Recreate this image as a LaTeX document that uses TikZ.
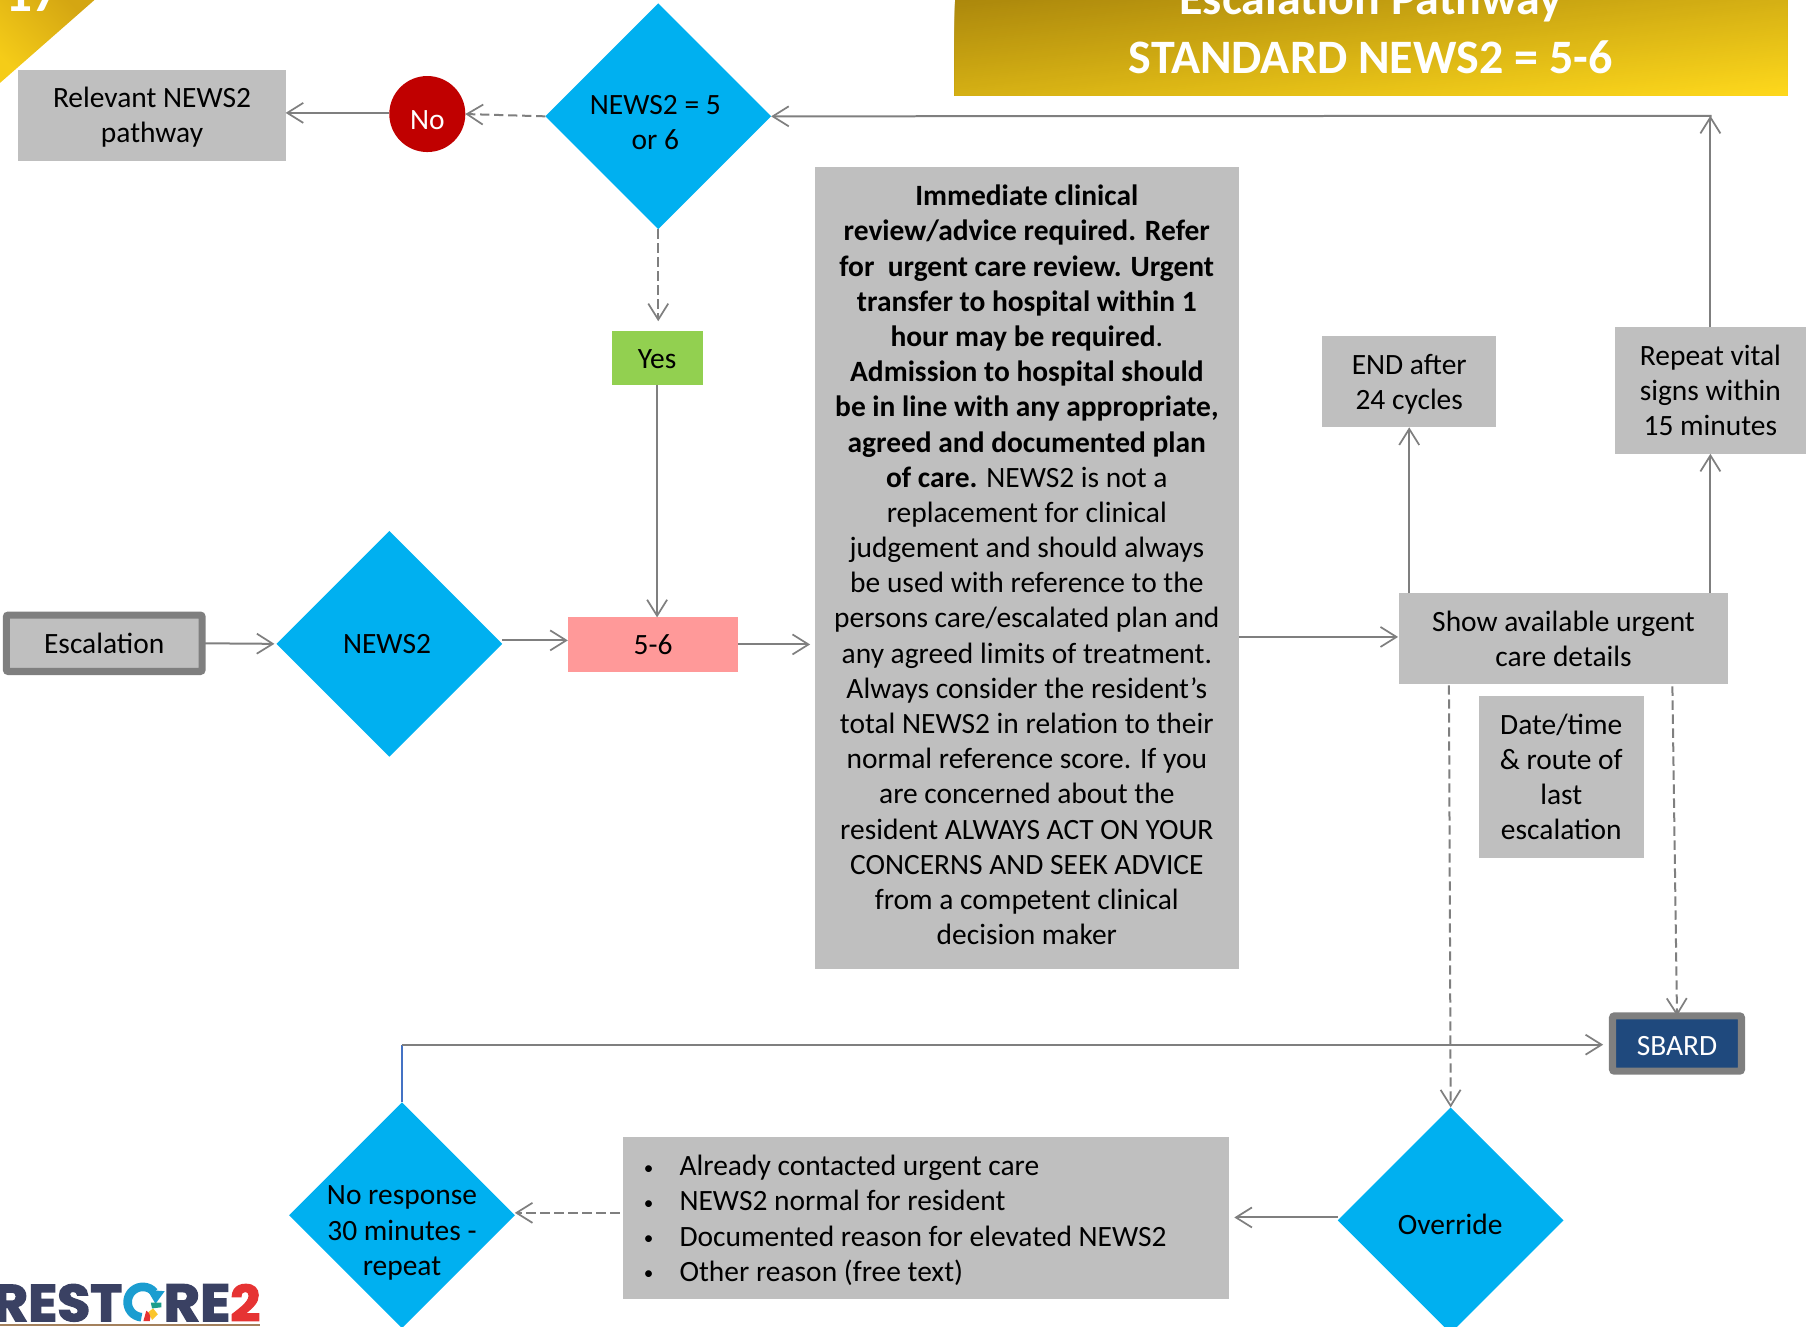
\documentclass[tikz,border=0pt]{standalone}
\usepackage{fontspec}
\setmainfont{Carlito}
\newfontfamily\logofont{Poppins}[BoldFeatures={FakeBold=2.5}]
\usetikzlibrary{shapes.geometric,arrows.meta,calc}
\definecolor{boxgrey}{HTML}{BFBFBF}
\definecolor{linegrey}{HTML}{7F7F7F}
\definecolor{diacol}{HTML}{00B0F0}
\definecolor{navy}{HTML}{3A4163}
\definecolor{goldA}{HTML}{AC880C}
\definecolor{goldB}{HTML}{FFD91C}
\definecolor{cornA}{HTML}{F5CC18}
\definecolor{cornB}{HTML}{D4A612}
\definecolor{nored}{HTML}{C00000}
\definecolor{yesgreen}{HTML}{92D050}
\definecolor{fivepink}{HTML}{FF9999}
\definecolor{sbardblue}{HTML}{1F497D}
\definecolor{logocyan}{HTML}{1B9DD0}
\definecolor{logored}{HTML}{E63333}
\definecolor{logoteal}{HTML}{1E9E8C}
\definecolor{logoyellow}{HTML}{FBC52B}
\definecolor{elbowblue}{HTML}{4472C4}
\newcommand{\bodyfont}{\fontsize{22.1}{26.4}\selectfont}
\tikzset{
  x=0.864pt,y=-0.864pt,
  wh/.style 2 args={minimum width=#1*0.864pt,minimum height=#2*0.864pt},
  box/.style={rectangle,fill=boxgrey,draw=none,inner sep=0pt,outer sep=0pt,align=center,font=\bodyfont},
  txt/.style={align=center,inner sep=0pt,outer sep=0pt,text=black,font=\bodyfont},
  diam/.style={diamond,fill=diacol,draw=none,inner sep=0pt,outer sep=0pt,wh={196}{196}},
  conn/.style={draw=linegrey,line width=1.5pt,-{Straight Barb[length=12pt,width=15pt,line width=1.3pt]}},
  plain/.style={draw=linegrey,line width=1.5pt},
  dconn/.style={conn,dash pattern=on 7pt off 3.5pt},
  thick box/.style={rectangle,rounded corners=1.5pt,line width=5.3pt,draw=linegrey,inner sep=0pt,outer sep=0pt,font=\bodyfont},
  logo/.style={inner sep=0pt,outer sep=0pt,anchor=north west},
  title/.style={inner sep=0pt,anchor=base,text=white,font=\bfseries\fontsize{36}{36}\selectfont},
}
\newcommand{\bul}[1]{\makebox[26.8pt][l]{\scalebox{0.65}{\raisebox{2pt}{•}}}#1}
\newcommand{\logotxt}[3]{\resizebox{\dimexpr 0.864pt*#1\relax}{\dimexpr 0.864pt*#2\relax}{\logofont\bfseries #3}}
\begin{document}
\begin{tikzpicture}
\useasboundingbox (0,0) rectangle (1568,1151.3);
% corner ribbon
\shade[left color=cornA,right color=cornB,shading angle=135] (0,0) -- (82,0) -- (0,72) -- cycle;
\node[inner sep=0pt,anchor=base,text=white,font=\bfseries\fontsize{40}{40}\selectfont] (corner num) at (28,10) {17};
% banner: diagonal gradient, each step paints everything beyond its own line
\begin{scope}
\clip (829,0) rectangle (1552,83);
\fill[goldA] (829,0) rectangle (1552,83);
\foreach \i in {1,...,99}{
  \pgfmathsetmacro{\xa}{829+2*\i/100*723}
  \pgfmathsetmacro{\xb}{829+(2*\i/100-1)*723}
  \fill[goldB!\i!goldA] (\xa,0) -- (\xb,83) -- (3000,83) -- (3000,0) -- cycle;
}
\end{scope}
\node[title] (title a) at (1190,13) {Escalation Pathway};
\node[title] (title b) at (1190,63.5) {STANDARD NEWS2 = 5-6};
% top row
\node[box,wh={232}{79}] (rel) at (132,100.5) {};
\node[txt] (relt) at (132,101.5) {Relevant NEWS2\\pathway};
\node[circle,fill=nored,draw=none,inner sep=0pt,outer sep=0pt,wh={66}{66}] (no) at (371,99) {};
\node[txt,text=white] (not) at (371,104) {No};
\node[diam] (d1) at (571.5,101) {};
\node[txt] (d1t) at (569,106.5) {NEWS2 = 5\\or 6};
\node[rectangle,fill=yesgreen,inner sep=0pt,outer sep=0pt,wh={79}{47}] (yes) at (570.5,310.5) {};
\node[txt] (yest) at (570.5,311.5) {Yes};
% middle row
\node[thick box,fill=boxgrey,wh={170}{49}] (esc) at (90.5,558.5) {Escalation};
\node[diam] (news) at (338,559) {};
\node[txt] (newst) at (336,559) {NEWS2};
\node[rectangle,fill=fivepink,inner sep=0pt,outer sep=0pt,wh={148}{47},font=\bodyfont] (five) at (567,559.5) {5-6};
\node[box,wh={368}{696}] (big) at (892,493) {};
\node[txt] (bigt) at (891.5,490.5) {%
\textbf{Immediate clinical}\\
\textbf{review/advice required. Refer}\\
\textbf{for\ \ urgent care review. Urgent}\\
\textbf{transfer to hospital within 1}\\
\textbf{hour may be required}.\\
\textbf{Admission to hospital should}\\
\textbf{be in line with any appropriate,}\\
\textbf{agreed and documented plan}\\
\textbf{of care.} NEWS2 is not a\\
replacement for clinical\\
judgement and should always\\
be used with reference to the\\
persons care/escalated plan and\\
any agreed limits of treatment.\\
Always consider the resident’s\\
total NEWS2 in relation to their\\
normal reference score. If you\\
are concerned about the\\
resident ALWAYS ACT ON YOUR\\
CONCERNS AND SEEK ADVICE\\
from a competent clinical\\
decision maker};
\node[box,wh={151}{79}] (endb) at (1223.5,331.5) {};
\node[txt] (endt) at (1223.5,333.5) {END after\\24 cycles};
\node[box,wh={166}{110}] (rep) at (1485,339) {Repeat vital\\signs within\\15 minutes};
\node[box,wh={285}{79}] (show) at (1357.5,554.5) {Show available urgent\\care details};
\node[box,wh={143}{141}] (date) at (1355.5,674.5) {Date/time\\\& route of\\last\\escalation};
% bottom row
\node[thick box,fill=sbardblue,wh={112}{48}] (sbard) at (1456,906) {};
\node[txt,text=white] (sbardt) at (1456,908) {SBARD};
\node[diam] (resp) at (349,1055) {};
\node[txt] (respt) at (349,1070.5) {No response\\30 minutes -\\repeat};
\node[diam] (over) at (1259.5,1059.5) {};
\node[txt] (overt) at (1259,1063) {Override};
\node[box,wh={526}{141}] (bul) at (804,1057.5) {};
\node[txt,align=left,anchor=west] (bult) at (559,1059.5) {\bul{Already contacted urgent care}\\\bul{NEWS2 normal for resident}\\\bul{Documented reason for elevated NEWS2}\\\bul{Other reason (free text)}};
% logo
\node[logo,text=navy] (lg1) at (-6,1115) {\logotxt{112}{32}{REST}};
\node[logo,text=navy] (lg2) at (142,1115) {\logotxt{58}{32}{RE}};
\node[logo,text=logored] (lg3) at (200,1115) {\logotxt{26}{32}{2}};
\draw[draw=logocyan,line width=6.5pt] (134.1,1122) arc[start angle=40,end angle=265,radius=11.4pt];
\fill[logocyan] (128,1120) -- (143,1121) -- (135,1132) -- cycle;
\fill[logored] (127,1138) -- (131,1141) -- (130,1147) -- (124.5,1147) -- cycle;
\fill[logoyellow] (129,1139) -- (133,1136) -- (137,1141) -- (132,1146) -- cycle;
\fill[logoteal] (131,1131) -- (140,1131) -- (140,1135) -- (132,1136) -- cycle;
\draw[draw=brown!55!gray,line width=1pt] (0,1150.5) -- (226,1150.5);
% connectors
\coordinate (turn) at (1486,100.5);
\coordinate (elbow) at (349,907);
\coordinate (ds1) at (1258,595);
\coordinate (ds2) at (1452,596);
\path[dconn] (d1.west) -- (no.east);
\path[conn] (no.west |- 0,98) -- (rel.east |- 0,98);
\path[dconn,shorten >=7pt] (d1.south) -- (d1.south |- yes.north);
\path[conn] (yes.south) -- (yes.south |- five.north);
\path[conn,shorten >=1.5pt] (esc.east) -- (news.west);
\path[conn] (news.east |- 0,556) -- (five.west |- 0,556);
\path[conn,shorten >=4pt] (five.east) -- (five.east -| big.west);
\path[conn,shorten >=1pt] (big.east |- 0,553) -- (show.west |- 0,553);
\path[conn] (endb.south |- show.north) -- (endb.south);
\path[conn] (rep.south |- show.north) -- (rep.south);
\path[conn] (rep.north) -- (rep.north |- turn);
\path[conn] (turn) -- (d1.east);
\path[dconn] (ds1) -- (over.north);
\path[dconn] (ds2) -- (sbard.north);
\path[plain,draw=elbowblue] (resp.north) -- (elbow);
\path[conn,shorten >=7pt] (elbow) -- (sbard.west |- elbow);
\path[conn,shorten >=4pt] (over.west |- 0,1057) -- (bul.east |- 0,1057);
\path[dconn,shorten <=2.5pt] (bul.west |- 0,1053) -- (resp.east |- 0,1053);
\end{tikzpicture}
\end{document}
